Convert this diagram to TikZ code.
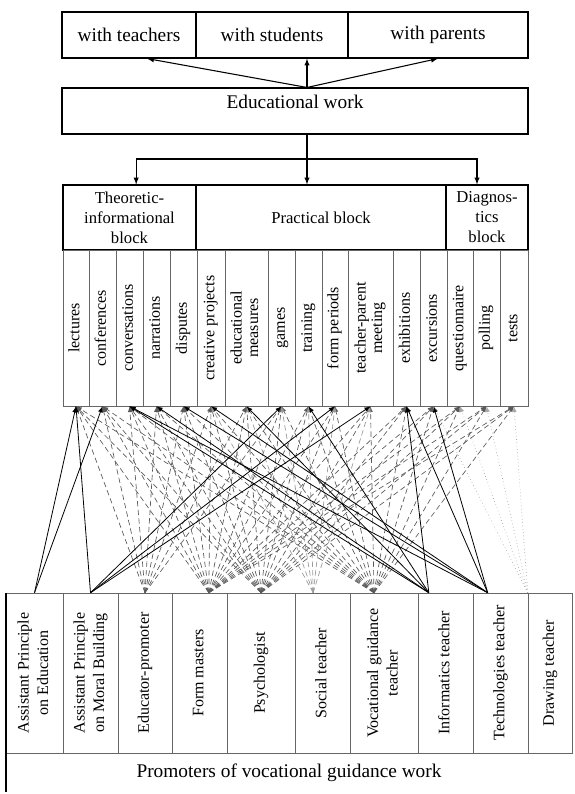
\documentclass[tikz,border=0pt]{standalone}
\usepackage{fontspec}
\setmainfont{Liberation Serif}
\usepackage{graphicx}
\usetikzlibrary{calc}

\newcommand\vlabel[1]{\rotatebox{90}{\begin{tabular}{@{}c@{}}#1\end{tabular}}}

\begin{document}
\begin{tikzpicture}[x=0.75pt, y=-0.75pt,
	box/.style={draw, thick, inner sep=0pt, minimum height=34.5pt, font=\fontsize{14.5}{16}\selectfont},
	blk/.style={draw, thick, inner sep=0pt, align=center, minimum height=48.75pt, font=\fontsize{12.5}{15}\selectfont},
	col/.style={draw=black!60, inner sep=0pt, minimum height=117pt, font=\fontsize{12}{12.5}\selectfont},
	pcol/.style={draw=black!60, inner sep=0pt, minimum height=120pt, font=\fontsize{12}{14.5}\selectfont},
	dashln/.style={black!65, dash pattern=on 4pt off 2.5pt, line width=0.5pt},
	> = latex]

	\useasboundingbox (0,0) rectangle (575,794);

	% Forms of work and educational work
	
	\node [box, minimum width=100.5pt] (tea) at (129,35) {with teachers};
	\node [box, minimum width=114pt] (stu) at (272,35) {with students};
	\node [box, minimum width=135pt] (par) at (438,35) {with parents};
	
	\node [box, minimum width=349.5pt, text depth=14pt] (eduw) at (295,111) {Educational work};
	
	% Three blocks
	
	\node [blk, minimum width=99.75pt] (theo) at (129.5,217.5) {Theoretic-\\informational\\block};
	\node [blk, minimum width=187.5pt] (prac) at (321,217.5) {Practical block};
	\node [blk, minimum width=61.5pt] (diag) at (487,217.5) {Diagnos-\\tics\\block};
	
	% Forms of each block
	
	\foreach \a/\b/\nm/\txt in {63/89/lec/lectures, 89/116/conf/conferences,
		116/143/conv/conversations, 143/170/narr/narrations, 170/197/disp/disputes,
		197/225/crea/creative projects, 225/268/meas/{educational\\measures},
		268/295/game/games, 295/322/trai/training, 322/348/form/form periods,
		348/393/meet/{teacher-parent\\meeting}, 393/420/exhi/exhibitions,
		420/447/excu/excursions, 447/473/ques/questionnaire, 473/500/poll/polling,
		500/528/test/tests}
	{
		\pgfmathsetmacro\w{(\b-\a)*0.75}
		\node [col, minimum width=\w pt] (\nm) at ({(\a+\b)/2},328) {\vlabel{\txt}};
	}
	
	% Promoters
	
	\foreach \a/\b/\nm/\txt in {6/63/ape/{Assistant Principle\\on Education},
		63/118/apm/{Assistant Principle\\on Moral Building}, 118/172/edp/Educator-promoter,
		172/227/fm/Form masters, 227/295/psy/Psychologist, 295/350/soc/Social teacher,
		350/418/voc/{Vocational guidance\\teacher}, 418/473/inf/Informatics teacher,
		473/528/tech/Technologies teacher, 528/572/drw/Drawing teacher}
	{
		\pgfmathsetmacro\w{(\b-\a)*0.75}
		\node [pcol, minimum width=\w pt] (\nm) at ({(\a+\b)/2},673) {\vlabel{\txt}};
	}
	
	\node [inner sep=0pt, minimum width=424.5pt, minimum height=29.25pt,
		font=\fontsize{14.5}{16}\selectfont] (prom) at (289,772.5) {Promoters of vocational guidance work};
	\draw [very thick] (ape.north west) -- (prom.south west);
	
	% Hubs of the connectors
	
	\coordinate (edphub) at (edp.north);
	\coordinate (fmhub) at ([xshift=7pt]fm.north);
	\coordinate (psyhub) at (psy.north);
	\coordinate (sochub) at ([xshift=-7pt]soc.north);
	\coordinate (vochub) at ([xshift=-7.5pt]voc.north);
	\coordinate (infhub) at ($(inf.north west)!0.2!(inf.north east)$);
	\coordinate (techhub) at ($(tech.north west)!0.27!(tech.north east)$);
	\coordinate (drwhub) at (drw.north west);
	\coordinate (fork) at (307,159);
	
	% Educational work to its forms and blocks
	
	\begin{scope}[thick, ->]
	
		\draw (eduw.north -| fork) -- ([xshift=13.5pt]tea.south);
		\draw (eduw.north -| fork) -- (stu.south -| fork);
		\draw (eduw.north -| fork) -- (par.south);
		
		\draw [-] (eduw.south -| fork) -- (fork);
		\draw (fork) -- (prac.north -| fork);
		\draw (fork) -| ([xshift=5pt]theo.north);
		\draw (fork) -| ([xshift=-7.5pt]diag.north);
	
	\end{scope}
	
	% Dashed connectors
	
	\begin{scope}[dashln, ->]
	
		\foreach \t in {lec,conf,conv,narr,disp,crea,meas,game,trai,form,meet,exhi,excu,ques,poll,test}
		{
			\draw (fmhub) -- (\t.south);
			\draw (psyhub) -- (\t.south);
			\draw (vochub) -- (\t.south);
		}
		\foreach \t in {lec,conf,conv,narr,disp,crea,meas,game}
			\draw (edphub) -- (\t.south);
		\foreach \t in {crea,meas,game,trai,form,meet}
			\draw [black!40] (sochub) -- (\t.south);
		\foreach \t in {excu,ques,poll,test}
			\draw [black!35, dotted] (drwhub) -- (\t.south);
	
	\end{scope}
	
	% Solid connectors
	
	\begin{scope}[semithick, ->]
	
		\foreach \t in {lec,conf}
			\draw (ape.north) -- (\t.south);
		\foreach \t in {lec,game,form,meet}
			\draw (apm.north) -- (\t.south);
		\foreach \t in {conv,narr,meas,trai,exhi}
			\draw (infhub) -- (\t.south);
		\foreach \t in {conv,disp,crea,exhi,excu}
			\draw (techhub) -- (\t.south);
	
	\end{scope}

\end{tikzpicture}
\end{document}
